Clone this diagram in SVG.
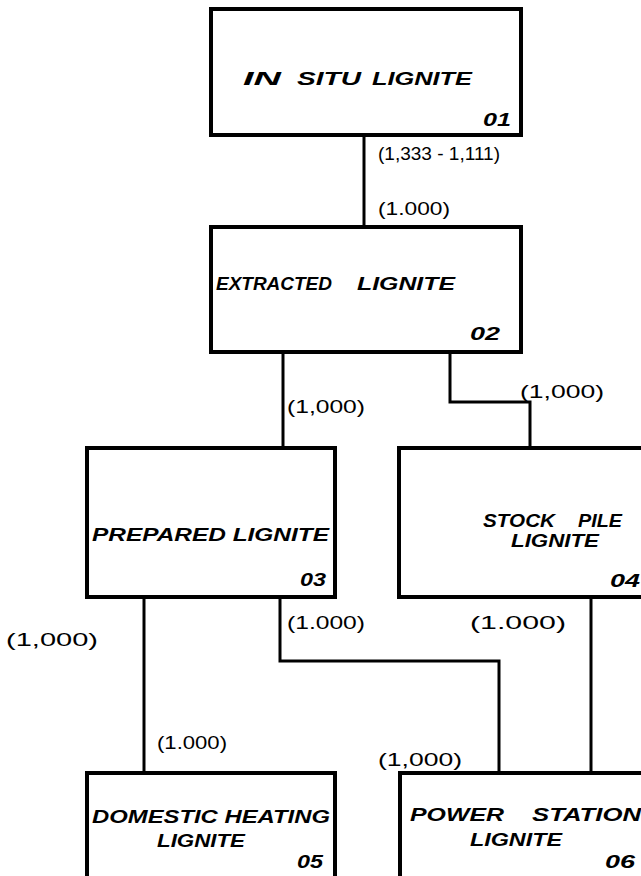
<svg xmlns="http://www.w3.org/2000/svg" width="641" height="876" viewBox="0 0 641 876">
<style>
.box{fill:#fff;stroke:#000;stroke-width:4}
.conn{fill:none;stroke:#000;stroke-width:3}
.t{font-family:"Liberation Sans",Arial,sans-serif;font-weight:bold;font-style:italic;font-size:18px;fill:#000}
.n{font-family:"Liberation Sans",Arial,sans-serif;font-weight:bold;font-style:italic;font-size:18px;fill:#000}
.q{font-family:"Liberation Sans",Arial,sans-serif;font-size:18px;fill:#000}
</style>
<rect width="641" height="876" fill="#fff"/>
<g id="connectors">
<path class="conn" d="M364,135 V227"/>
<path class="conn" d="M283,352 V448"/>
<path class="conn" d="M450,352 V402 H530 V448"/>
<path class="conn" d="M144,597 V773"/>
<path class="conn" d="M280,597 V661 H499 V773"/>
<path class="conn" d="M591,597 V773"/>
<text class="q" x="378" y="160" textLength="122" lengthAdjust="spacingAndGlyphs">(1,333 - 1,111)</text>
<text class="q" x="378" y="215" textLength="72" lengthAdjust="spacingAndGlyphs">(1.000)</text>
<text class="q" x="287" y="413" textLength="78" lengthAdjust="spacingAndGlyphs">(1,000)</text>
<text class="q" x="520" y="398" textLength="84" lengthAdjust="spacingAndGlyphs">(1,000)</text>
<text class="q" x="6" y="646" textLength="92" lengthAdjust="spacingAndGlyphs" font-size="22">(1,000)</text>
<text class="q" x="287" y="629" textLength="78" lengthAdjust="spacingAndGlyphs">(1.000)</text>
<text class="q" x="470" y="629" textLength="96" lengthAdjust="spacingAndGlyphs">(1.000)</text>
<text class="q" x="157" y="749" textLength="70" lengthAdjust="spacingAndGlyphs">(1.000)</text>
<text class="q" x="378" y="766" textLength="84" lengthAdjust="spacingAndGlyphs">(1,000)</text>
</g>
<g id="n01">
<rect class="box" x="211" y="9" width="310" height="126"/>
<text class="t" x="243" y="85" textLength="38" lengthAdjust="spacingAndGlyphs">IN</text>
<text class="t" x="297" y="85" textLength="64" lengthAdjust="spacingAndGlyphs">SITU</text>
<text class="t" x="372" y="85" textLength="100" lengthAdjust="spacingAndGlyphs">LIGNITE</text>
<text class="n" x="483" y="126" textLength="28" lengthAdjust="spacingAndGlyphs">01</text>
</g>
<g id="n02">
<rect class="box" x="211" y="227" width="310" height="125"/>
<text class="t" x="216" y="290" textLength="116" lengthAdjust="spacingAndGlyphs">EXTRACTED</text>
<text class="t" x="357" y="290" textLength="98" lengthAdjust="spacingAndGlyphs">LIGNITE</text>
<text class="n" x="470" y="340" textLength="30" lengthAdjust="spacingAndGlyphs">02</text>
</g>
<g id="n03">
<rect class="box" x="87" y="448" width="248" height="149"/>
<text class="t" x="92" y="541" textLength="237" lengthAdjust="spacingAndGlyphs">PREPARED LIGNITE</text>
<text class="n" x="300" y="586" textLength="26" lengthAdjust="spacingAndGlyphs">03</text>
</g>
<g id="n04">
<rect class="box" x="399" y="448" width="260" height="149"/>
<text class="t" x="483" y="527" textLength="72" lengthAdjust="spacingAndGlyphs">STOCK</text>
<text class="t" x="578" y="527" textLength="44" lengthAdjust="spacingAndGlyphs">PILE</text>
<text class="t" x="511" y="547" textLength="88" lengthAdjust="spacingAndGlyphs">LIGNITE</text>
<text class="n" x="610" y="587" textLength="30" lengthAdjust="spacingAndGlyphs">04</text>
</g>
<g id="n05">
<rect class="box" x="87" y="773" width="248" height="110"/>
<text class="t" x="92" y="823" textLength="238" lengthAdjust="spacingAndGlyphs">DOMESTIC HEATING</text>
<text class="t" x="157" y="847" textLength="88" lengthAdjust="spacingAndGlyphs">LIGNITE</text>
<text class="n" x="297" y="868" textLength="26" lengthAdjust="spacingAndGlyphs">05</text>
</g>
<g id="n06">
<rect class="box" x="400" y="773" width="260" height="110"/>
<text class="t" x="410" y="821" textLength="94" lengthAdjust="spacingAndGlyphs">POWER</text>
<text class="t" x="532" y="821" textLength="109" lengthAdjust="spacingAndGlyphs">STATION</text>
<text class="t" x="470" y="846" textLength="92" lengthAdjust="spacingAndGlyphs">LIGNITE</text>
<text class="n" x="605" y="868" textLength="30" lengthAdjust="spacingAndGlyphs">06</text>
</g>
</svg>
